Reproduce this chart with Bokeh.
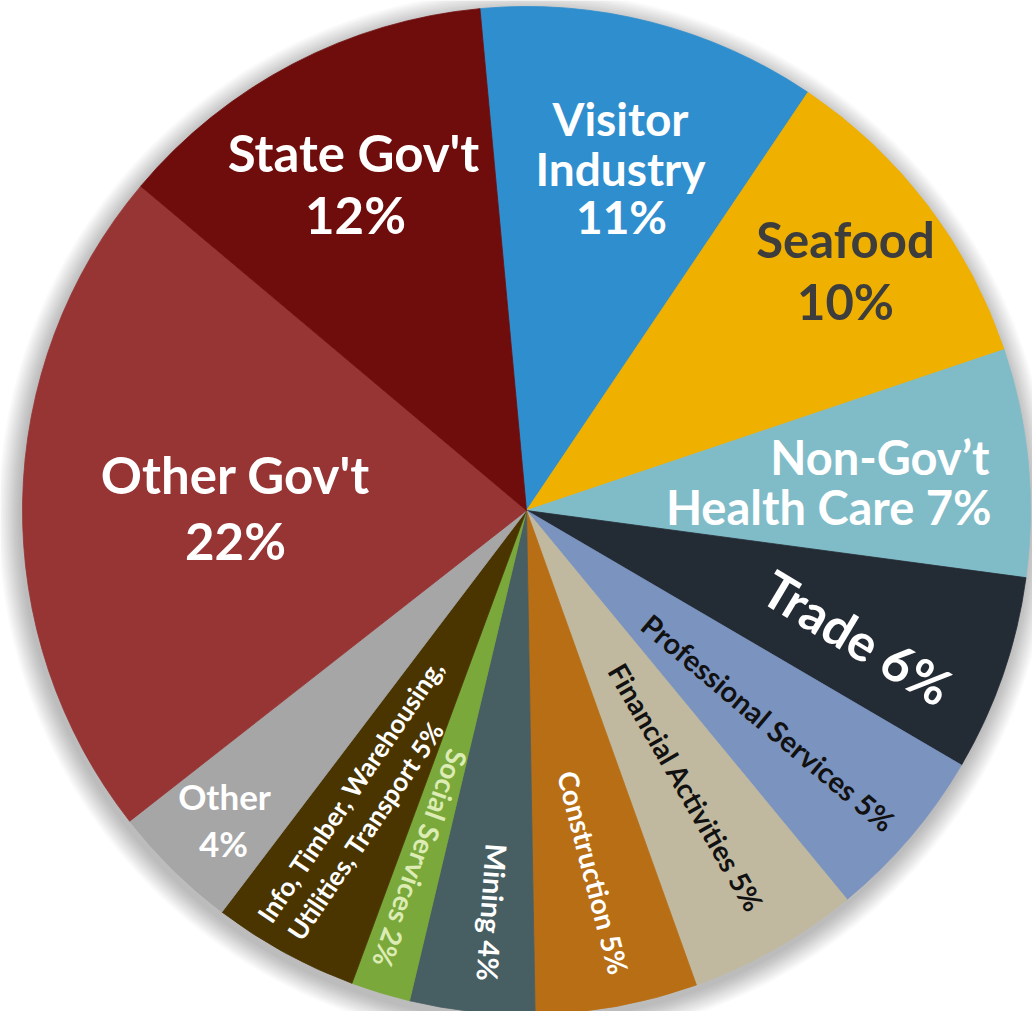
import math
from bokeh.plotting import figure
from bokeh.models import Range1d, ColumnDataSource
from bokeh.core.properties import value
from bokeh.embed import file_html
from bokeh.resources import INLINE

# ---------------- data ----------------
categories = ["Visitor Industry", "Seafood", "Non-Gov't Health Care", "Trade",
              "Professional Services", "Financial Activities", "Construction",
              "Mining", "Social Services",
              "Info, Timber, Warehousing, Utilities, Transport", "Other",
              "Other Gov't", "State Gov't"]
shares = [10.9, 10.4, 7.3, 6.3, 5.6, 5.5, 5.2, 4.0, 1.9, 4.7, 4.1, 21.7, 12.4]
pct_labels = ["11%", "10%", "7%", "6%", "5%", "5%", "5%", "4%", "2%", "5%", "4%", "22%", "12%"]
colors = ["#2F8ECE", "#EFB000", "#80BCC8", "#232B35", "#7B93BF", "#C0B9A0",
          "#B86E14", "#475E63", "#7AA83A", "#4A3500", "#A6A6A6", "#973434", "#6F0D0D"]

# ---------------- layout (styles / positions, screen px) ----------------
W, H = 1032, 1011
CX, CY_SCREEN, R = 526, 510, 504
START_CW = -5.3  # first slice starts slightly left of 12 o'clock

def sy(y):  # screen y -> data y
    return H - y

p = figure(width=W, height=H, x_range=Range1d(0, W), y_range=Range1d(0, H),
           output_backend="svg", toolbar_location=None, min_border=0,
           x_axis_location=None, y_axis_location=None,
           outline_line_color=None, background_fill_color="white",
           border_fill_color="white")
p.grid.visible = False

# soft shadow
n_sh = 14
p.circle(x=[CX - 2] * n_sh, y=[sy(CY_SCREEN + 6)] * n_sh,
         radius=[R + 1.6 * k for k in range(1, n_sh + 1)],
         fill_color="black", fill_alpha=0.018, line_color=None)

# wedges
total = sum(shares)
starts, ends = [], []
cum = 0.0
for s in shares:
    cw0 = START_CW + 360.0 * cum / total
    cum += s
    cw1 = START_CW + 360.0 * cum / total
    starts.append(math.radians(90 - cw1))
    ends.append(math.radians(90 - cw0))

src = ColumnDataSource(dict(cat=categories, share=shares, color=colors,
                            start=starts, end=ends))
p.wedge(x=CX, y=sy(CY_SCREEN), radius=R, start_angle="start", end_angle="end",
        fill_color="color", line_color="color", line_width=0.8, source=src)

# labels
FONT = value("Lato")

def lab(text, x, y, size, color="white", angle=0.0, align="center"):
    p.text(x=[x], y=[sy(y)], text=[text], angle=math.radians(angle),
           text_font=FONT, text_font_style="bold", text_font_size=f"{size}px",
           text_color=color, text_align=align, text_baseline="middle")

lab("State Gov't", 353, 152, 51)
lab(pct_labels[12], 355, 214, 51)
lab("Other Gov't", 235, 474, 51)
lab(pct_labels[11], 235, 540, 51)
lab("Visitor", 620, 118, 46)
lab("Industry", 620, 168, 46)
lab(pct_labels[0], 621, 216, 46)
lab("Seafood", 845, 238, 49, color="#3D3D3D")
lab(pct_labels[1], 845, 300, 49, color="#3D3D3D")
lab("Non-Gov\u2019t", 989, 456, 47, align="right")
lab("Health Care " + pct_labels[2], 991, 506, 47, align="right")
lab("Trade " + pct_labels[3], 857, 637, 51, angle=-31)
lab("Professional Services " + pct_labels[4], 768, 722, 29, color="#111111", angle=-40)
lab("Financial Activities " + pct_labels[5], 686, 787, 28, color="#111111", angle=-60)
lab("Construction " + pct_labels[6], 593, 872, 28, angle=-75.5)
lab("Mining " + pct_labels[7], 492, 912, 29, angle=-94)
lab("Social Services " + pct_labels[8], 420, 858, 28, color="#DCECB4", angle=-109.7)
lab("Info, Timber, Warehousing,", 350, 790, 26, angle=56)
lab("Utilities, Transport " + pct_labels[9], 365, 830, 26, angle=56)
lab("Other", 224, 795, 35)
lab(pct_labels[10], 223, 842, 35)

open("out.html", "w").write(file_html(p, INLINE))
